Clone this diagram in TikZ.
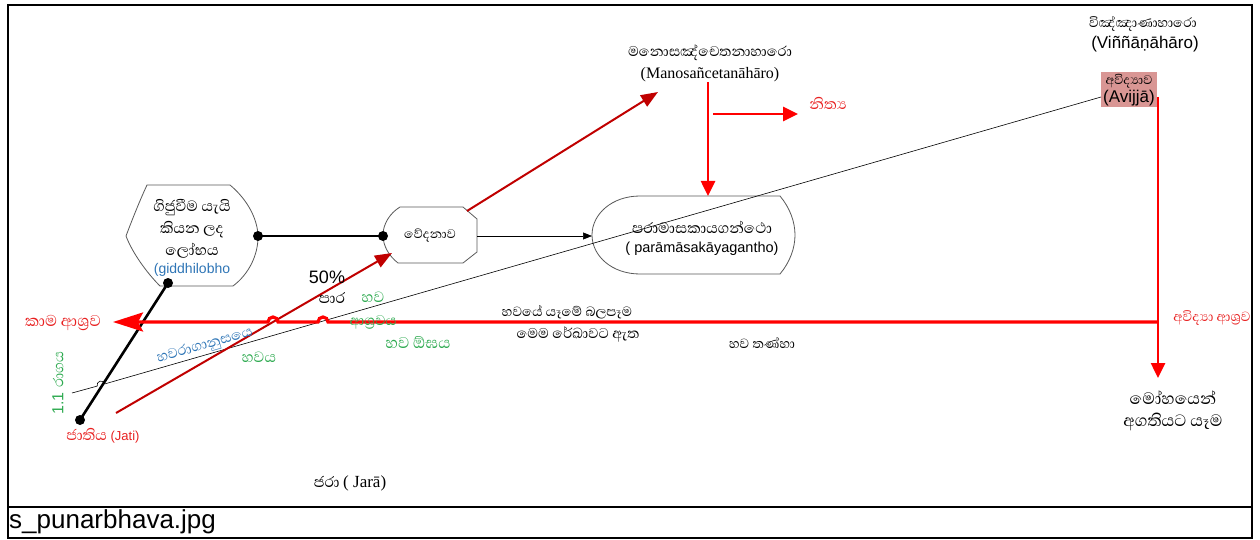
\documentclass[tikz,border=0pt]{standalone}
\usepackage{fontspec}
\setmainfont{Liberation Sans}
\newfontfamily\sinfont[Script=Sinhala]{Abhaya Libre}
\newfontfamily\tmsfont{Liberation Serif}
\usetikzlibrary{arrows.meta}
\definecolor{dred}{HTML}{C00000}
\definecolor{bred}{HTML}{FF0000}
\definecolor{lred}{HTML}{E82020}
\definecolor{grn}{HTML}{2EAA50}
\definecolor{blu}{HTML}{2E75B6}
\definecolor{pinkbox}{HTML}{D99694}
\tikzset{
  si/.style={font=\sinfont\fontsize{19}{21}\selectfont, inner sep=0pt},
  sis/.style={font=\sinfont\fontsize{17}{19}\selectfont, inner sep=0pt},
  lat/.style={font=\fontsize{14.5}{16}\selectfont, inner sep=0pt},
  shapeline/.style={draw=black!65, line width=0.8pt},
  dotnode/.style={circle, fill=black, inner sep=0pt, minimum size=10pt},
  thickblack/.style={draw=black, line width=2.6pt},
  redthick/.style={draw=bred, line width=3.2pt},
  redmid/.style={draw=bred, line width=2.6pt},
  darkred/.style={draw=dred, line width=2pt},
  tri/.style={-{Triangle[length=15pt,width=14pt]}},
}
\begin{document}
\begin{tikzpicture}[x=1pt,y=-1pt]
\useasboundingbox (0,0) rectangle (1260,540);
% frame
\draw[line width=1.2pt] (8,5) rectangle (1252,538);
\draw[line width=1.2pt] (8,507) -- (1252,507);
\node[anchor=west, inner sep=0pt, font=\fontsize{26}{28}\selectfont] (cap) at (9,522) {s\_punarbhava.jpg};

% shapes
\draw[shapeline, fill=white] (147,185) -- (230,185) .. controls (248,200) and (258,220) .. (258,237)
  .. controls (258,255) and (249,274) .. (233,286) -- (160,286)
  .. controls (146,272) and (132,252) .. (126,236) .. controls (132,220) and (140,200) .. (147,185) -- cycle;
\draw[shapeline, fill=white] (400,207) -- (463,207) -- (477,219) -- (477,252) -- (463,263) -- (398,263)
  .. controls (389,256) and (383,246) .. (383,235) .. controls (383,224) and (390,213) .. (400,207) -- cycle;
\draw[shapeline, fill=white] (640,196) -- (780,196) .. controls (790,208) and (795,222) .. (795,235)
  .. controls (795,248) and (790,262) .. (780,274) -- (640,274)
  .. controls (612,274) and (592,256) .. (592,235) .. controls (592,214) and (612,196) .. (640,196) -- cycle;

% avijja box
\node[fill=pinkbox, minimum width=56pt, minimum height=35pt, inner sep=0pt] (avbox) at (1129,90) {};

% coordinates
\coordinate (vR) at (477,236);
\coordinate (pL) at (592,236);
\coordinate (vTR) at (467,211);
\coordinate (mBL) at (658,92);
\coordinate (mB) at (708,82);
\coordinate (pT) at (708,196);
\coordinate (nS) at (713,114);
\coordinate (nE) at (798,114);
\coordinate (tS) at (72,393);
\coordinate (aL) at (1101,97);
\coordinate (aR) at (1158,97);
\coordinate (moT) at (1158,378);
\coordinate (jn) at (1158,322);
\coordinate (km) at (113,322);
\coordinate (jR) at (116,413);
\coordinate (vBL) at (392,253);

% thin line with hop
\draw[line width=0.6pt] (tS) -- (97.2,386.1) arc[start angle=196, end angle=16, radius=4pt] -- (aL);

% thick black connectors with dots
\node[dotnode] (d1) at (258,236) {};
\node[dotnode] (d2) at (383,236) {};
\node[dotnode] (d3) at (168,283) {};
\node[dotnode] (d4) at (80,420) {};
\draw[thickblack] (d1.center) -- (d2.center);
\draw[thickblack] (d3.center) -- (d4.center);

% thin black arrow
\draw[line width=0.6pt, -{Triangle[length=9pt,width=7pt]}] (vR) -- (pL);

% dark red arrows
\draw[darkred, -{Triangle[length=17pt,width=13pt]}] (vTR) -- (mBL);
\draw[darkred, -{Triangle[length=17pt,width=13pt]}] (jR) -- (vBL);

% bright red arrows
\draw[redmid, tri] (mB) -- (pT);
\draw[redmid, tri] (nS) -- (nE);
\draw[redmid, tri] (aR) -- (moT);
\draw[redthick, -{Stealth[length=30pt,width=19pt,inset=5pt]}] (jn) -- (328,322)
  arc[start angle=0, end angle=180, radius=5pt] -- (278,322)
  arc[start angle=0, end angle=180, radius=5pt] -- (km);

% texts
\node[si] (g1) at (192,208) {ගිජුවීම යැයි};
\node[si] (g2) at (192,230) {කියන ලද};
\node[si] (g3) at (192,251) {ලෝභය};
\node[lat, text=blu, font=\fontsize{14}{16}\selectfont] (g4) at (192,270) {(giddhilobho};
\node[si, font=\sinfont\fontsize{16}{18}\selectfont] (ved) at (430,236) {වේදනාව};
\node[si, font=\sinfont\fontsize{18}{20}\selectfont] (man1) at (710,53) {මනොසඤ්චෙතනාහාරො};
\node[inner sep=0pt, font=\tmsfont\fontsize{16}{18}\selectfont] (man2) at (710,75) {(Manosañcetanāhāro)};
\node[si, text=lred] (nit) at (828,103) {නිත්^^^^200dය};
\node[si] (par1) at (702,227) {පරාමාසකායගන්ථො};
\node[lat] (par2) at (702,249) {( parāmāsakāyagantho)};
\node[sis] (vin1) at (1143,24) {විඤ්ඤාණාහාරො};
\node[inner sep=0pt, font=\fontsize{17}{19}\selectfont] (vin2) at (1145,44) {(Viññāṇāhāro)};
\node[si, font=\sinfont\fontsize{16}{18}\selectfont] (av1) at (1129,81) {අවිද්^^^^200dයාව};
\node[inner sep=0pt, font=\fontsize{17}{19}\selectfont] (av2) at (1129,98) {(Avijjā)};
\node[sis, text=lred] (avas) at (1212,318) {අවිද්^^^^200dයා ආශ්^^^^200dරව};
\node[si, font=\sinfont\fontsize{21}{23}\selectfont] (mo1) at (1173,398) {මෝහයෙන්};
\node[si, font=\sinfont\fontsize{21}{23}\selectfont] (mo2) at (1173,422) {අගතියට යෑම};
\node[sis] (bh1) at (567,312) {හවයේ යෑමේ බලපෑම};
\node[si, font=\sinfont\fontsize{18}{20}\selectfont] (bh2) at (578,334) {මෙම රේඛාවට ඇත};
\node[sis] (bt) at (762,343) {හව තණ්හා};
\node[inner sep=0pt] (jar) at (350,483) {\sinfont\fontsize{19}{21}\selectfont ජරා \tmsfont\fontsize{17}{19}\selectfont( Jarā)};
\node[inner sep=0pt, text=lred] (jat) at (103,436) {\sinfont\fontsize{19}{21}\selectfont ජාතිය \rmfamily\fontsize{13}{15}\selectfont(Jati)};
\node[si, font=\sinfont\fontsize{20}{22}\selectfont, text=lred] (kam) at (63,323) {කාම ආශ්^^^^200dරව};
\node[inner sep=0pt, text=grn, rotate=90] (rag) at (58,383) {\fontsize{16}{18}\selectfont 1.1 \sinfont\fontsize{18}{20}\selectfont රාගය};
\node[si, font=\sinfont\fontsize{18}{20}\selectfont, text=blu, rotate=16] (bhr) at (205,346) {හවරාගානුසයෙ};
\node[si, text=grn] (bhy) at (259,357) {හවය};
\node[inner sep=0pt, font=\fontsize{18}{20}\selectfont] (pct) at (327,277) {50\%};
\node[si] (para) at (332,298) {පාර};
\node[si, text=grn] (hv) at (373,297) {හව};
\node[si, font=\sinfont\fontsize{18}{20}\selectfont, text=grn] (asr) at (373,322) {ආශ්^^^^200dරවය};
\node[si, font=\sinfont\fontsize{20}{22}\selectfont, text=grn] (ogh) at (418,343) {හව ඕඝය};
\end{tikzpicture}
\end{document}
